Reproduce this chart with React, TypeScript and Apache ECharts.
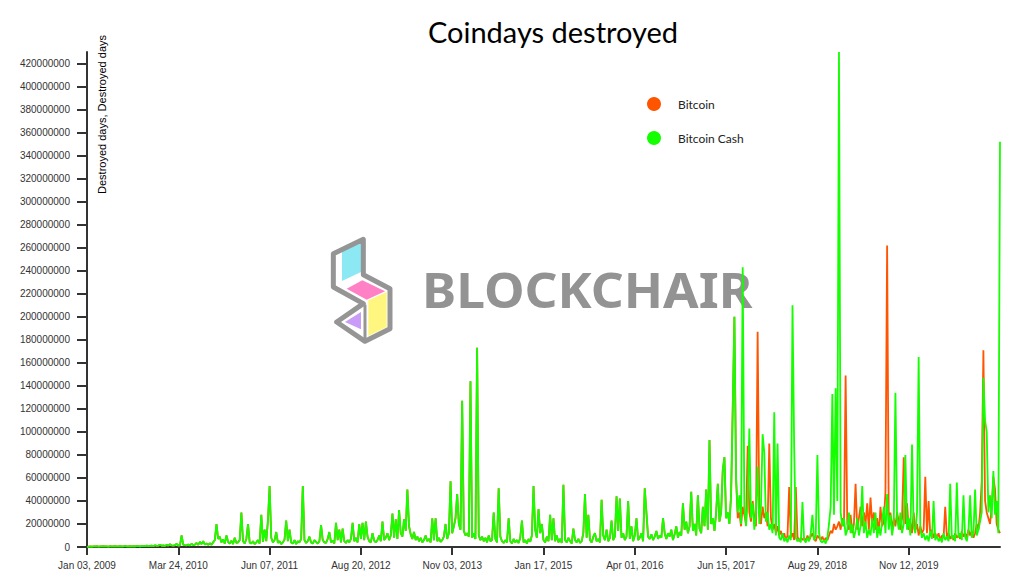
import React, { useEffect, useRef } from 'react';
import * as echarts from 'echarts';

// Sampling of the series: one value every STEP_DAYS days from START_DATE
const START_DATE = 'Jan 03, 2009';
const STEP_DAYS = 8;
const AXIS_END_DAY = 4400;
const X_TICK_DAYS = 440;

const xTickLabels = [
  'Jan 03, 2009', 'Mar 24, 2010', 'Jun 07, 2011', 'Aug 20, 2012', 'Nov 03, 2013',
  'Jan 17, 2015', 'Apr 01, 2016', 'Jun 15, 2017', 'Aug 29, 2018', 'Nov 12, 2019',
];

const Y_MAX = 430000000;
const Y_STEP = 20000000;

// Coindays destroyed, millions — common history before the Aug 2017 fork
const sharedHistory = [
  0.2, 0.4, 0.5, 0.4, 0.6, 0.5, 0.7, 0.4, 0.6, 0.5, 0.8, 0.5, 0.6, 0.4, 0.7, 0.6, 0.5, 0.8, 0.6, 0.5,
  0.7, 0.5, 0.6, 0.9, 0.6, 0.5, 0.7, 0.6, 0.8, 0.5, 0.9, 0.7, 0.6, 1.0, 0.7, 0.8, 1.2, 0.7, 0.9, 1.1,
  0.8, 1.5, 1.0, 1.2, 2.0, 1.1, 1.3, 1.0, 1.8, 1.2, 2.5, 1.4, 1.2, 1.6, 2.8, 1.3, 1.5, 10, 1.8, 1.6,
  1.5, 2.2, 1.4, 2.8, 1.6, 2.0, 3.5, 1.8, 4.5, 2.5, 5.0, 2.2, 3.0, 1.8, 3.2, 2.0, 4.0, 6.0, 20, 7.0,
  9.0, 4.0, 6.5, 3.0, 10, 4.5, 3.0, 5.5, 2.5, 8.0, 3.5, 4.0, 6.0, 30, 5.0, 3.0, 7.0, 20, 4.0, 3.0,
  5.0, 2.5, 4.0, 6.0, 3.0, 28, 4.5, 15, 5.0, 23, 53, 8.0, 4.0, 6.0, 13, 3.5, 5.0, 2.5, 4.0, 6.5,
  23, 5.0, 15, 4.0, 3.0, 6.0, 2.5, 5.0, 4.0, 7.0, 53, 6.0, 3.5, 5.0, 9.0, 4.0, 3.0, 6.0, 4.5, 3.0,
  5.0, 19, 6.0, 4.0, 3.5, 7.0, 13, 4.0, 5.5, 3.0, 21, 6.0, 15, 4.0, 16, 5.0, 3.5, 6.0, 4.0, 7.0,
  21, 5.0, 8.0, 4.0, 20, 7.0, 21, 6.0, 22, 9.0, 5.0, 4.0, 12, 5.5, 4.0, 6.0, 10, 5.0, 22, 6.0,
  8.0, 12, 6.0, 10, 29, 8.0, 24, 7.0, 32, 12, 9.0, 24, 14, 50, 18, 11, 7.0, 13, 6.0, 9.0,
  5.0, 8.0, 4.0, 6.0, 10, 5.0, 7.0, 4.0, 25, 6.0, 25, 5.0, 8.0, 4.5, 6.0, 9.0, 20, 7.0, 12, 57,
  12, 18, 25, 46, 20, 15, 127, 14, 10, 12, 9.0, 144, 8.0, 12, 7.0, 173, 10, 6.0, 9.0, 5.0,
  8.0, 4.0, 10, 5.0, 6.0, 30, 7.0, 4.0, 51, 9.0, 5.0, 3.5, 6.0, 4.0, 25, 5.0, 3.0, 7.0, 4.0, 6.0,
  3.5, 8.0, 23, 4.0, 6.0, 3.0, 7.0, 4.5, 10, 53, 15, 8.0, 33, 12, 20, 6.0, 4.0, 9.0, 5.0, 28,
  6.0, 25, 5.0, 10, 4.0, 7.0, 3.5, 54, 6.0, 4.0, 8.0, 5.0, 3.0, 16, 6.0, 4.0, 7.0, 3.5, 5.0, 12,
  46, 8.0, 28, 6.0, 4.0, 9.0, 12, 5.0, 7.0, 4.0, 41, 10, 6.0, 15, 5.0, 8.0, 23, 6.0, 9.0, 44,
  14, 42, 8.0, 12, 6.0, 9.0, 40, 7.0, 18, 5.0, 10, 25, 6.0, 8.0, 12, 5.0, 51, 30, 9.0, 7.0,
  11, 6.0, 9.0, 14, 7.0, 10, 8.0, 25, 12, 7.0, 12, 9.0, 15, 6.0, 11, 18, 8.0, 13, 10, 38,
  15, 22, 12, 18, 48, 14, 20, 10, 45, 16, 12, 35, 18, 50, 15, 93, 20, 25, 14, 30,
  55, 22, 30, 67, 78, 25, 30, 20, 45, 120, 200, 60,
];

// Bitcoin after the fork, millions
const btcAfterFork = [
  25, 30, 18, 35, 28, 20, 88, 30, 22, 40, 25, 18, 187, 28, 20, 35, 25, 30, 18, 90,
  25, 15, 20, 12, 18, 10, 14, 8, 12, 6, 10, 52, 8, 12, 6, 52, 9, 5, 8, 6,
  8, 5, 10, 6, 9, 12, 7, 5, 10, 8, 6, 9, 5, 8, 6, 10, 14, 12, 20, 15,
  18, 22, 15, 25, 18, 149, 20, 15, 28, 12, 20, 55, 15, 25, 35, 18, 30, 20, 38, 15,
  43, 20, 30, 15, 25, 12, 35, 18, 22, 48, 262, 20, 30, 15, 25, 18, 30, 22, 15, 25,
  78, 20, 38, 15, 22, 12, 30, 15, 20, 10, 18, 12, 15, 61, 12, 40, 10, 15, 8, 12,
  8, 12, 6, 10, 8, 35, 9, 12, 7, 10, 6, 12, 8, 10, 7, 14, 9, 12, 8, 15,
  10, 14, 8, 12, 20, 15, 30, 57, 171, 40, 30, 25, 20, 35, 61, 50, 20, 15, 12,
];

// Bitcoin Cash after the fork, millions
const bchAfterFork = [
  30, 45, 20, 243, 35, 18, 40, 103, 25, 38, 15, 30, 70, 20, 35, 98, 82, 22, 30, 15,
  20, 12, 117, 10, 90, 8, 6, 12, 5, 8, 4, 10, 6, 210, 88, 8, 5, 7, 4, 39,
  6, 4, 8, 5, 12, 28, 6, 10, 80, 12, 5, 4, 6, 3, 8, 20, 35, 133, 28, 138,
  40, 430, 30, 18, 25, 10, 15, 30, 12, 20, 8, 14, 25, 10, 18, 53, 12, 22, 8, 15,
  10, 25, 12, 30, 8, 18, 10, 22, 35, 12, 46, 15, 28, 10, 20, 134, 25, 15, 30, 12,
  20, 80, 15, 25, 10, 89, 18, 12, 30, 165, 15, 8, 12, 6, 10, 5, 14, 7, 40, 6,
  10, 5, 8, 4, 12, 6, 9, 5, 55, 7, 10, 5, 56, 8, 12, 6, 45, 9, 5, 14,
  45, 8, 12, 50, 10, 15, 22, 30, 147, 110, 100, 30, 45, 25, 66, 28, 40, 12, 352,
];

const seriesNames = ['Bitcoin', 'Bitcoin Cash'];
const seriesColors = ['#ff5500', '#14ff00'];

const toPoints = (values: number[]) =>
  values.map((v, i) => [i * STEP_DAYS, v * 1e6]);

export default function App() {
  const ref = useRef<HTMLDivElement>(null);

  useEffect(() => {
    if (!ref.current) return;
    const chart = echarts.init(ref.current, undefined, { renderer: 'svg' });

    const btc = toPoints([...sharedHistory, ...btcAfterFork]);
    const bch = toPoints([...sharedHistory, ...bchAfterFork]);

    const gray = '#959595';
    const P = (X: number, Y: number) => [325 + X / 3, 232 + Y / 3];

    chart.setOption({
      animation: false,
      backgroundColor: '#ffffff',
      title: {
        text: 'Coindays destroyed',
        left: 548,
        top: 12,
        textAlign: 'center',
        textStyle: { fontFamily: 'Lato', fontSize: 29, fontWeight: 'normal', color: '#000' },
      },
      legend: {
        data: seriesNames,
        orient: 'vertical',
        left: 642,
        top: 92,
        icon: 'circle',
        itemWidth: 14,
        itemHeight: 14,
        itemGap: 20,
        textStyle: { fontFamily: 'Lato', fontSize: 12, color: '#222', padding: [0, 0, 0, 12] },
      },
      grid: { left: 87, right: 32, top: 52, bottom: 41, containLabel: false },
      xAxis: {
        type: 'value',
        min: 0,
        max: AXIS_END_DAY,
        interval: X_TICK_DAYS,
        splitLine: { show: false },
        axisLine: { show: true, lineStyle: { color: '#333', width: 2 } },
        axisTick: { show: true, length: 8, lineStyle: { color: '#333', width: 2 } },
        axisLabel: {
          showMinLabel: true,
          showMaxLabel: false,
          margin: 13,
          fontFamily: 'Liberation Sans',
          fontSize: 10,
          color: '#333',
          formatter: (v: number) => xTickLabels[Math.round(v / X_TICK_DAYS)] ?? '',
        },
      },
      yAxis: {
        type: 'value',
        min: 0,
        max: Y_MAX,
        interval: Y_STEP,
        splitLine: { show: false },
        axisLine: { show: true, lineStyle: { color: '#333', width: 2 } },
        axisTick: { show: true, length: 10, lineStyle: { color: '#333', width: 2 } },
        axisLabel: {
          showMaxLabel: false,
          margin: 17,
          fontFamily: 'Liberation Sans',
          fontSize: 10,
          color: '#333',
          formatter: (v: number) => String(v),
        },
      },
      graphic: [
        {
          type: 'text',
          x: 102,
          y: 35,
          rotation: Math.PI / 2,
          z: 5,
          style: {
            text: 'Destroyed days, Destroyed days',
            fontFamily: 'Liberation Sans',
            fontSize: 11,
            fill: '#000',
            align: 'right',
            verticalAlign: 'middle',
          },
        },
        {
          type: 'group',
          z: 0,
          silent: true,
          children: [
            { type: 'polygon', shape: { points: [[342, 251], [361, 243], [361, 272], [342, 281]] }, style: { fill: '#8ce9f4' } },
            { type: 'polygon', shape: { points: [[346.7, 288.7], [362.3, 280.3], [385, 291.3], [366.7, 299.7]] }, style: { fill: '#ff80c4' } },
            { type: 'polygon', shape: { points: [[368.3, 300.3], [386.7, 292], [386.7, 327], [368.3, 336]] }, style: { fill: '#fff67f' } },
            { type: 'polygon', shape: { points: [[345, 322], [361, 312], [361, 329.3]] }, style: { fill: '#c89cf7' } },
            {
              type: 'polygon',
              shape: {
                points: [P(25, 65), P(115, 22), P(115, 128), P(195, 170), P(195, 290), P(120, 328), P(35, 270), P(115, 215), P(25, 165)],
              },
              style: { fill: 'none', stroke: gray, lineWidth: 5, lineJoin: 'round' },
            },
            { type: 'line', shape: { x1: P(120, 218)[0], y1: P(120, 218)[1], x2: P(120, 326)[0], y2: P(120, 326)[1] }, style: { stroke: gray, lineWidth: 3 } },
            {
              type: 'text',
              x: 422,
              y: 289,
              scaleX: 1.05,
              style: {
                text: 'BLOCKCHAIR',
                fontFamily: 'Noto Sans',
                fontWeight: 'bold',
                fontSize: 49,
                fill: '#939393',
                align: 'left',
                verticalAlign: 'middle',
              },
            },
          ],
        },
      ],
      series: [
        {
          name: seriesNames[0],
          type: 'line',
          data: btc,
          showSymbol: false,
          symbol: 'none',
          z: 3,
          color: seriesColors[0],
          lineStyle: { width: 1.8, color: seriesColors[0] },
        },
        {
          name: seriesNames[1],
          type: 'line',
          data: bch,
          showSymbol: false,
          symbol: 'none',
          z: 4,
          color: seriesColors[1],
          lineStyle: { width: 1.8, color: seriesColors[1] },
        },
      ],
    });

    return () => chart.dispose();
  }, []);

  return (
    <div
      ref={ref}
      data-start={START_DATE}
      style={{ position: 'absolute', left: 0, top: 0, width: 1032, height: 588 }}
    />
  );
}
